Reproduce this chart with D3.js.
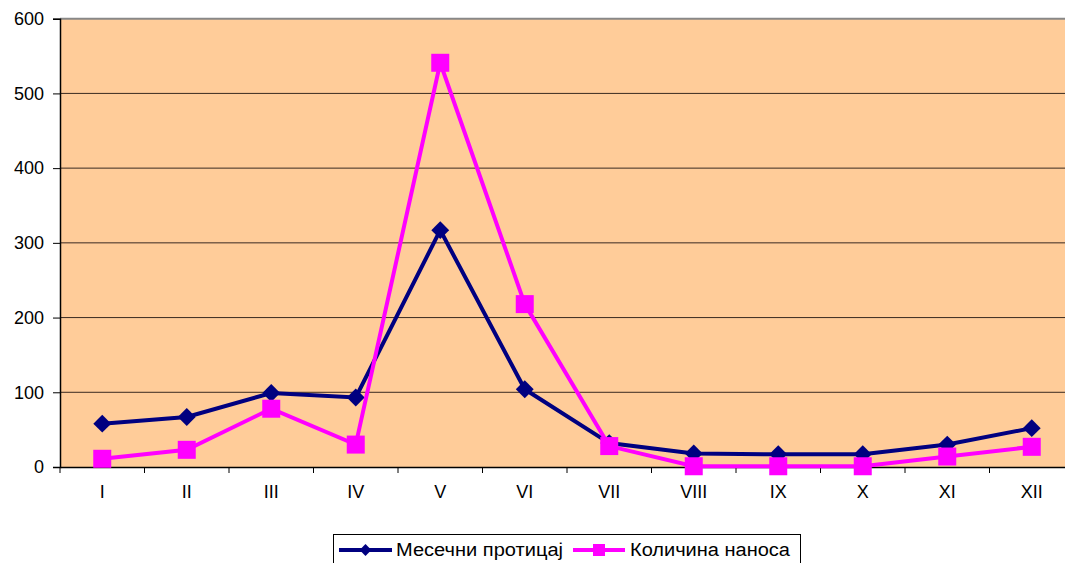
<!DOCTYPE html>
<html><head><meta charset="utf-8">
<script src="https://cdn.jsdelivr.net/npm/d3@7"></script>
<style>body{margin:0;background:#fff}svg{display:block;font-family:"Liberation Sans",Arial,sans-serif}</style>
</head><body>
<svg id="c" width="1065" height="563"></svg>
<script>
const categories = ["I","II","III","IV","V","VI","VII","VIII","IX","X","XI","XII"];
const protok = [58, 67, 99, 93, 317, 104, 32, 18, 17, 17, 30, 52];
const nanos = [11, 23, 78, 30, 541, 218, 28, 1, 1, 1, 14, 27];
const yTicks = [0, 100, 200, 300, 400, 500, 600];
const seriesNames = ["Месечни протицај", "Количина наноса"];

const svg = d3.select("#c");
const L = 60, R = 1074, T = 18.7, B = 467;
const x = d3.scaleBand().domain(categories).range([L, R]);
const y = d3.scaleLinear().domain([0, 600]).range([B, T]);

svg.append("rect").attr("x", L).attr("y", T).attr("width", R - L).attr("height", B - T).attr("fill", "#FFCC99");
// gridlines
svg.append("g").selectAll("line").data(yTicks.filter(d => d > 0 && d < 600)).join("line")
  .attr("x1", L).attr("x2", R).attr("y1", d => y(d)).attr("y2", d => y(d))
  .attr("stroke", "#3a2a20").attr("stroke-width", 1);
// top border
svg.append("line").attr("x1", L).attr("x2", R).attr("y1", T).attr("y2", T).attr("stroke", "#888").attr("stroke-width", 2);

// y axis
const ya = svg.append("g").attr("transform", `translate(${L},0)`)
  .call(d3.axisLeft(y).tickValues(yTicks).tickSize(7).tickPadding(9));
ya.select(".domain").attr("stroke", "#000").attr("stroke-width", 1.5);
ya.selectAll(".tick line").attr("stroke", "#000");
ya.selectAll("text").attr("font-size", 18).attr("fill", "#000").attr("font-family", "Liberation Sans, Arial, sans-serif");

// x axis
const xa = svg.append("g").attr("transform", `translate(0,${B})`)
  .call(d3.axisBottom(x).tickSize(0).tickPadding(18));
xa.select(".domain").attr("stroke", "#000").attr("stroke-width", 1.5);
xa.selectAll("text").attr("font-size", 18).attr("fill", "#000").attr("font-family", "Liberation Sans, Arial, sans-serif");
// category boundary ticks
const bounds = categories.map(c => x(c));
svg.append("g").selectAll("line").data(bounds).join("line")
  .attr("x1", d => d).attr("x2", d => d).attr("y1", B).attr("y2", B + 6)
  .attr("stroke", "#000").attr("stroke-width", 1);

const cx = c => x(c) + x.bandwidth() / 2;
const line = d3.line().x(d => cx(d[0])).y(d => y(d[1]));

function drawSeries(vals, color, marker) {
  const pts = categories.map((c, i) => [c, vals[i]]);
  svg.append("path").datum(pts).attr("d", line).attr("fill", "none")
    .attr("stroke", color).attr("stroke-width", 4).attr("stroke-linejoin", "miter");
  const g = svg.append("g");
  if (marker === "diamond") {
    g.selectAll("path").data(pts).join("path")
      .attr("d", d3.symbol(d3.symbolSquare, 160))
      .attr("transform", d => `translate(${cx(d[0])},${y(d[1])}) rotate(45)`)
      .attr("fill", color);
  } else {
    g.selectAll("rect").data(pts).join("rect")
      .attr("x", d => cx(d[0]) - 9).attr("y", d => y(d[1]) - 9)
      .attr("width", 18).attr("height", 18).attr("fill", color);
  }
}
drawSeries(protok, "#000080", "diamond");
drawSeries(nanos, "#FF00FF", "square");

// legend
const lg = svg.append("g");
lg.append("rect").attr("x", 333.5).attr("y", 534.5).attr("width", 467).attr("height", 40)
  .attr("fill", "#fff").attr("stroke", "#000").attr("stroke-width", 1);
const items = [
  {name: seriesNames[0], color: "#000080", marker: "diamond", x0: 339, x1: 392, tx: 396, tl: 167},
  {name: seriesNames[1], color: "#FF00FF", marker: "square", x0: 573, x1: 625, tx: 630, tl: 160}
];
const ly = 550;
items.forEach(it => {
  lg.append("line").attr("x1", it.x0).attr("x2", it.x1).attr("y1", ly).attr("y2", ly)
    .attr("stroke", it.color).attr("stroke-width", 4);
  const mx = (it.x0 + it.x1) / 2;
  if (it.marker === "diamond") {
    lg.append("path").attr("d", d3.symbol(d3.symbolSquare, 70))
      .attr("transform", `translate(${mx},${ly}) rotate(45)`).attr("fill", it.color);
  } else {
    lg.append("rect").attr("x", mx - 6).attr("y", ly - 6).attr("width", 12).attr("height", 12).attr("fill", it.color);
  }
  lg.append("text").attr("x", it.tx).attr("y", ly).attr("dy", "0.36em")
    .attr("font-size", 18).attr("textLength", it.tl).attr("lengthAdjust", "spacingAndGlyphs")
    .attr("fill", "#000").text(it.name);
});
</script>
</body></html>
